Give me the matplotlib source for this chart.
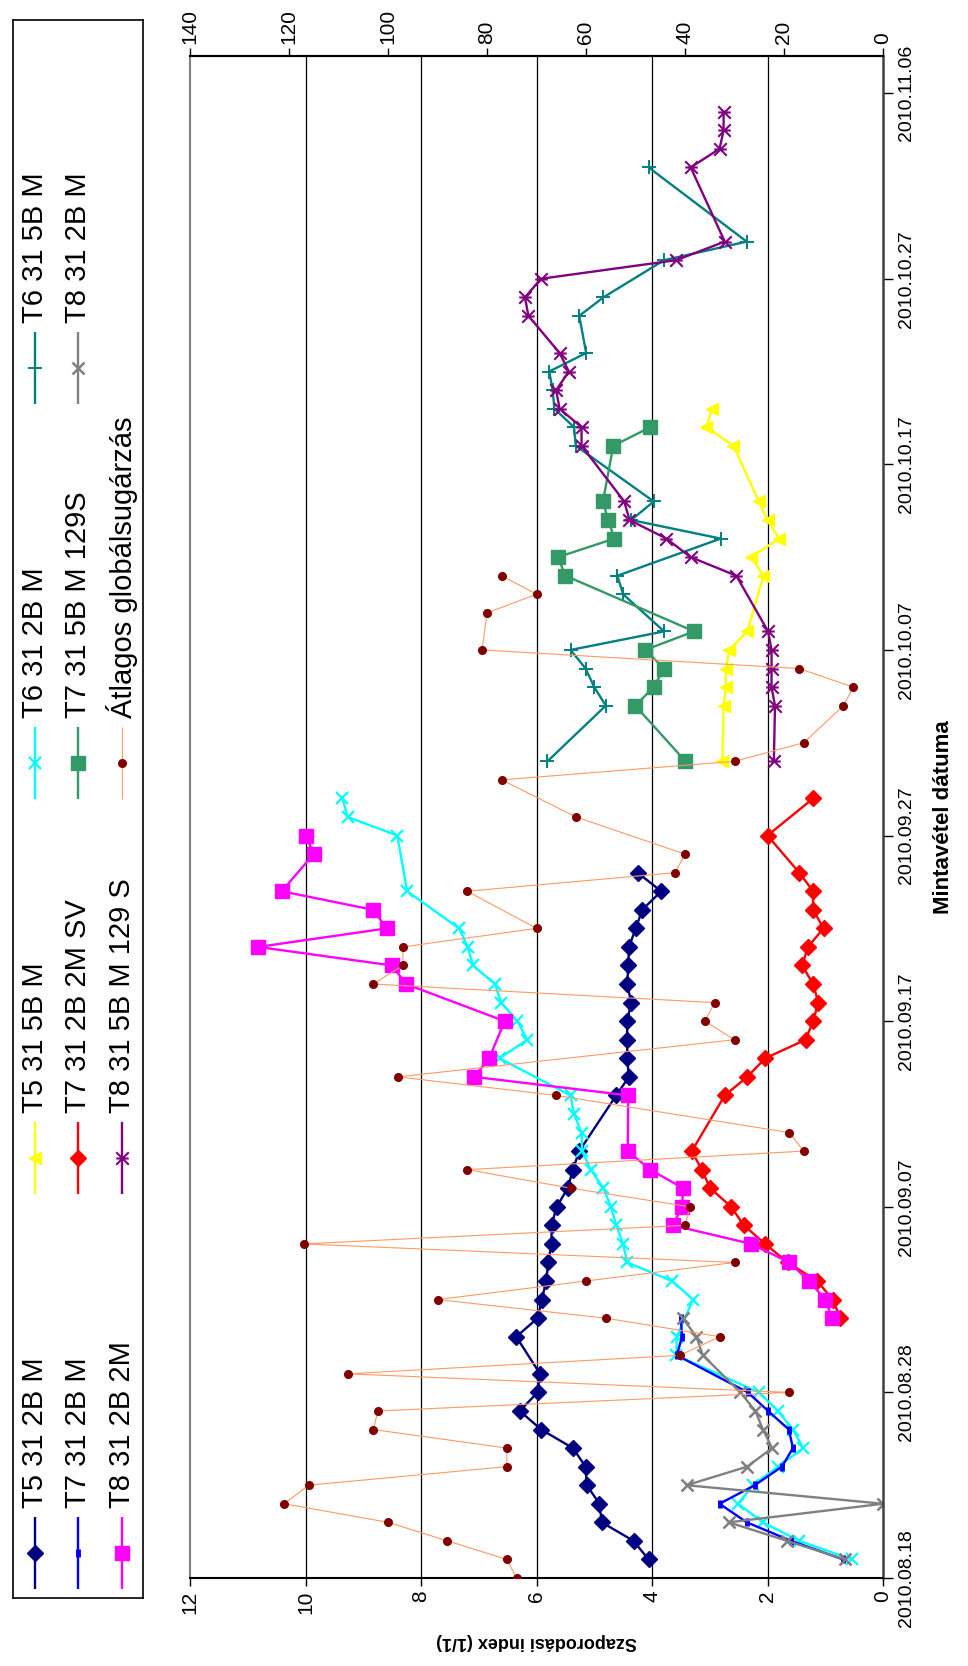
import matplotlib
matplotlib.use("Agg")
import matplotlib.pyplot as plt
import matplotlib.dates as mdates
from matplotlib.path import Path
import pandas as pd

plt.rcParams['font.family'] = ['Liberation Sans', 'DejaVu Sans']

# ---- data (dates are 2010 MM.DD) ----
t5_2b_dates = ['08.19', '08.20', '08.21', '08.22', '08.23', '08.24', '08.25', '08.26', '08.27',
               '08.28', '08.29', '08.31', '09.01', '09.02', '09.03', '09.04', '09.05', '09.06',
               '09.07', '09.08', '09.09', '09.10', '09.13', '09.14', '09.15', '09.16', '09.17',
               '09.18', '09.19', '09.20', '09.21', '09.22', '09.23', '09.24', '09.25']
t5_2b_vals = [4.06, 4.32, 4.87, 4.91, 5.13, 5.15, 5.37, 5.92, 6.29, 5.98, 5.94, 6.35, 5.98, 5.91,
              5.83, 5.80, 5.74, 5.74, 5.65, 5.46, 5.37, 5.26, 4.62, 4.40, 4.43, 4.43, 4.43, 4.36,
              4.43, 4.41, 4.40, 4.28, 4.17, 3.84, 4.25]

t5_5b_dates = ['10.01', '10.04', '10.05', '10.06', '10.07', '10.08', '10.11', '10.12', '10.13',
               '10.14', '10.15', '10.18', '10.19', '10.20']
t5_5b_vals = [2.78, 2.76, 2.72, 2.72, 2.66, 2.35, 2.07, 2.28, 1.80, 2.00, 2.15, 2.59, 3.06, 2.96]

t6_2b_dates = ['08.19', '08.20', '08.21', '08.22', '08.23', '08.24', '08.25', '08.26', '08.27',
               '08.28', '08.30', '08.31', '09.02', '09.03', '09.04', '09.05', '09.06', '09.07',
               '09.08', '09.09', '09.10', '09.11', '09.12', '09.13', '09.15', '09.16', '09.17',
               '09.18', '09.19', '09.20', '09.21', '09.22', '09.24', '09.27', '09.28', '09.29']
t6_2b_vals = [0.54, 1.45, 2.08, 2.51, 2.25, 1.82, 1.38, 1.56, 1.82, 2.15, 3.58, 3.57, 3.29, 3.65,
              4.43, 4.50, 4.62, 4.71, 4.84, 5.06, 5.21, 5.22, 5.35, 5.41, 6.64, 6.16, 6.33, 6.61,
              6.72, 7.10, 7.19, 7.34, 8.24, 8.41, 9.27, 9.36]

t6_5b_dates = ['10.01', '10.04', '10.05', '10.06', '10.07', '10.08', '10.10', '10.11', '10.13',
               '10.14', '10.15', '10.18', '10.19', '10.20', '10.21', '10.22', '10.23', '10.25',
               '10.26', '10.28', '10.29', '11.02']
t6_5b_vals = [5.81, 4.80, 5.00, 5.15, 5.41, 3.79, 4.50, 4.60, 2.81, 4.36, 3.97, 5.32, 5.35, 5.69,
              5.72, 5.78, 5.14, 5.26, 4.84, 3.79, 2.36, 4.06]

t7_2b_dates = ['08.19', '08.20', '08.21', '08.22', '08.23', '08.24', '08.25', '08.26', '08.27',
               '08.28', '08.30', '08.31', '09.01']
t7_2b_vals = [0.69, 1.59, 2.36, 2.83, 2.22, 1.75, 1.56, 1.63, 1.99, 2.34, 3.57, 3.48, 3.50]

t7_sv_dates = ['09.01', '09.02', '09.03', '09.04', '09.05', '09.06', '09.07', '09.08', '09.09',
               '09.10', '09.13', '09.14', '09.15', '09.16', '09.17', '09.18', '09.19', '09.20',
               '09.21', '09.22', '09.23', '09.24', '09.25', '09.27', '09.29']
t7_sv_vals = [0.74, 0.87, 1.14, 1.65, 2.04, 2.41, 2.63, 2.99, 3.14, 3.31, 2.74, 2.35, 2.04, 1.34,
              1.21, 1.12, 1.21, 1.40, 1.30, 1.03, 1.21, 1.21, 1.45, 2.00, 1.21]

t7_5b_dates = ['10.01', '10.04', '10.05', '10.06', '10.07', '10.08', '10.11', '10.12', '10.13',
               '10.14', '10.15', '10.18', '10.19']
t7_5b_vals = [3.42, 4.29, 3.97, 3.79, 4.12, 3.27, 5.50, 5.63, 4.65, 4.76, 4.85, 4.67, 4.03]

t8_2b_dates = ['08.19', '08.20', '08.21', '08.22', '08.23', '08.24', '08.25', '08.26', '08.27',
               '08.28', '08.30', '08.31', '09.01']
t8_2b_vals = [0.66, 1.66, 2.67, 0.00, 3.40, 2.35, 1.92, 2.08, 2.21, 2.47, 3.12, 3.23, 3.47]

t8_2m_dates = ['09.01', '09.02', '09.03', '09.04', '09.05', '09.06', '09.07', '09.08', '09.09',
               '09.10', '09.13', '09.14', '09.15', '09.17', '09.19', '09.20', '09.21', '09.22',
               '09.23', '09.24', '09.26', '09.27']
t8_2m_vals = [0.88, 1.00, 1.28, 1.62, 2.28, 3.64, 3.48, 3.46, 4.03, 4.42, 4.41, 7.08, 6.82, 6.55,
              8.26, 8.50, 10.82, 8.59, 8.83, 10.41, 9.86, 9.99]

t8_5b_dates = ['10.01', '10.04', '10.05', '10.06', '10.07', '10.08', '10.11', '10.12', '10.13',
               '10.14', '10.15', '10.18', '10.19', '10.20', '10.21', '10.22', '10.23', '10.25',
               '10.26', '10.27', '10.28', '10.29', '11.02', '11.03', '11.04', '11.05']
t8_5b_vals = [1.89, 1.87, 1.93, 1.93, 1.93, 1.99, 2.54, 3.33, 3.75, 4.39, 4.48, 5.22, 5.22, 5.60,
              5.66, 5.44, 5.60, 6.14, 6.20, 5.92, 3.58, 2.74, 3.33, 2.83, 2.76, 2.76]

# average global radiation (secondary axis, 0-140)
rad_dates = ['08.17', '08.18', '08.19', '08.20', '08.21', '08.22', '08.23', '08.24', '08.25',
             '08.26', '08.27', '08.28', '08.29', '08.30', '08.31', '09.01', '09.02', '09.03',
             '09.04', '09.05', '09.06', '09.07', '09.08', '09.09', '09.10', '09.11', '09.13',
             '09.14', '09.16', '09.17', '09.18', '09.19', '09.20', '09.21', '09.22', '09.24',
             '09.25', '09.26', '09.28', '09.30', '10.01', '10.02', '10.04', '10.05', '10.06',
             '10.07', '10.09', '10.10', '10.11']
rad_vals = [100, 74, 76, 88, 100, 121, 116, 76, 76, 103, 102, 19, 108, 41, 33, 56, 90, 60,
            30, 117, 40, 39, 63, 84, 16, 19, 66, 98, 30, 36, 34, 103, 97, 97, 70, 84, 42, 40,
            62, 77, 30, 16, 8, 6, 17, 81, 80, 70, 77]

# ---- figure ----
W, H = 968, 1666
fig = plt.figure(figsize=(W / 100, H / 100), dpi=100)
L, R, T, B = 190, 883, 56, 1578
ax = fig.add_axes([L / W, 1 - B / H, (R - L) / W, (B - T) / H])

def to_dt(lst):
    return pd.to_datetime(['2010.' + s for s in lst], format='%Y.%m.%d')

star = Path([(-1, -1), (1, 1), (-1, 1), (1, -1), (-1, 0), (1, 0)],
            [Path.MOVETO, Path.LINETO, Path.MOVETO, Path.LINETO, Path.MOVETO, Path.LINETO])

series = [
    ('T5 31 2B M', t5_2b_dates, t5_2b_vals, dict(color='#000080', marker='D', ms=8.5, mfc='#000080', mec='#000080')),
    ('T5 31 5B M', t5_5b_dates, t5_5b_vals, dict(color='#FFFF00', marker='<', ms=9, mfc='#FFFF00', mec='#FFFF00')),
    ('T6 31 2B M', t6_2b_dates, t6_2b_vals, dict(color='#00FFFF', marker='x', ms=9, mew=1.6)),
    ('T6 31 5B M', t6_5b_dates, t6_5b_vals, dict(color='#008080', marker='+', ms=10, mew=1.4)),
    ('T7 31 2B M', t7_2b_dates, t7_2b_vals, dict(color='#0000FF', marker='|', ms=6, mew=3.5)),
    ('T7 31 2B 2M SV', t7_sv_dates, t7_sv_vals, dict(color='#FF0000', marker='D', ms=8, mfc='#FF0000', mec='#FF0000')),
    ('T7 31 5B M 129S', t7_5b_dates, t7_5b_vals, dict(color='#339966', marker='s', ms=10, mfc='#339966', mec='#339966')),
    ('T8 31 2B M', t8_2b_dates, t8_2b_vals, dict(color='#808080', marker='x', ms=9, mew=1.8)),
    ('T8 31 2B 2M', t8_2m_dates, t8_2m_vals, dict(color='#FF00FF', marker='s', ms=10.5, mfc='#FF00FF', mec='#FF00FF')),
    ('T8 31 5B M 129 S', t8_5b_dates, t8_5b_vals, dict(color='#800080', marker=star, ms=9, mew=1.5, mfc='none', mec='#800080')),
]

for name, d, v, st in series:
    ax.plot(v, to_dt(d), lw=1.7, **st)

ax.set_xlim(12, 0)
ymin, ymax = pd.Timestamp('2010-08-18'), pd.Timestamp('2010-11-08')
ax.set_ylim(ymin, ymax)
ax.set_xticks(range(0, 13, 2))
ax.tick_params(axis='x', direction='out', length=6, width=1, labelsize=15, labelrotation=90, pad=3)
for x in range(2, 12, 2):
    ax.axvline(x, color='black', lw=0.9, zorder=0)

ax.yaxis.tick_right()
ax.set_yticks(pd.date_range('2010-08-18', '2010-11-06', freq='10D'))
ax.yaxis.set_major_formatter(mdates.DateFormatter('%Y.%m.%d'))
ax.tick_params(axis='y', direction='out', length=7, width=1, labelsize=14, pad=4)
for lab in ax.get_yticklabels():
    lab.set_rotation(90)
    lab.set_va('center')

ax.set_xlabel('Szaporodási index (1/1)', fontsize=13, fontweight='bold', rotation=180, labelpad=14)
ax.yaxis.set_label_position('right')
ax.set_ylabel('Mintavétel dátuma', fontsize=16, fontweight='bold', rotation=90, labelpad=13)

ax.spines['left'].set_color('#808080')
ax.spines['left'].set_linewidth(1.5)
ax.spines['right'].set_color('#404040')
ax.spines['right'].set_linewidth(1.8)
ax.spines['bottom'].set_linewidth(1.5)
ax.spines['top'].set_linewidth(1.5)

# secondary axis for the global radiation
ax2 = ax.twiny()
ax2.set_xlim(140, 0)
ax2.set_xticks(range(0, 141, 20))
ax2.tick_params(axis='x', direction='out', length=6, width=1, labelsize=15, labelrotation=90, pad=3)
for s in ('left', 'right', 'bottom'):
    ax2.spines[s].set_visible(False)
ax2.spines['top'].set_linewidth(1.5)
ax2.plot(rad_vals, to_dt(rad_dates), color='#FF9966', lw=0.8, marker='o', ms=5.5,
         mfc='#800000', mec='#800000')

# ---- legend box ----
lax = fig.add_axes([13 / W, 1 - 1598 / H, 130 / W, (1598 - 20) / H])
lax.set_xlim(13, 143)
lax.set_ylim(1598, 20)
lax.set_xticks([])
lax.set_yticks([])
for s in lax.spines.values():
    s.set_linewidth(1.2)

legend_items = [s[0] for s in series] + ['Átlagos globálsugárzás']
legend_styles = [s[3] for s in series] + [dict(color='#FF9966', marker='o', ms=5.5, mfc='#800000', mec='#800000')]
order = ['T5 31 2B M', 'T5 31 5B M', 'T6 31 2B M', 'T6 31 5B M',
         'T7 31 2B M', 'T7 31 2B 2M SV', 'T7 31 5B M 129S', 'T8 31 2B M',
         'T8 31 2B 2M', 'T8 31 5B M 129 S', 'Átlagos globálsugárzás']
col_x = [35, 78, 122]
row_y = [1553, 1158, 763, 368]
for i, name in enumerate(order):
    cx, cy = col_x[i // 4], row_y[i % 4]
    st = dict(legend_styles[legend_items.index(name)])
    lw = 0.8 if name.startswith('Á') else 1.7
    lax.plot([cx, cx], [cy - 36, cy + 36], lw=lw, color=st['color'], solid_capstyle='butt')
    mst = {k: v for k, v in st.items() if k != 'color'}
    lax.plot([cx], [cy], ls='none', color=st['color'], **mst)
    lax.text(cx, cy - 45, name, rotation=90, ha='center', va='bottom', fontsize=21)

fig.savefig('out.png', dpi=100)
